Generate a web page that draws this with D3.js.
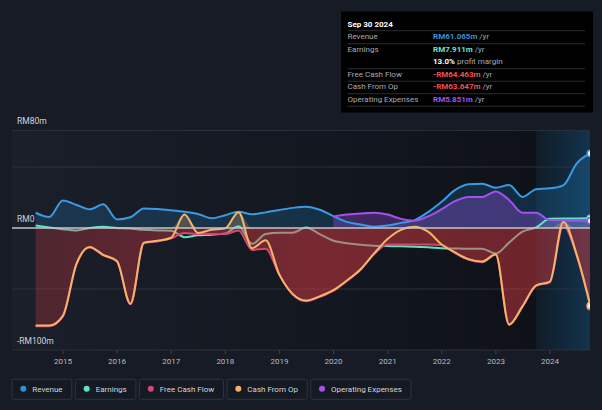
<!DOCTYPE html>
<html><head><meta charset="utf-8">
<script src="https://cdn.jsdelivr.net/npm/d3@7"></script>
<style>html,body{margin:0;padding:0;background:#161b25;}svg{display:block;font-family:Roboto,"Open Sans",sans-serif;}</style>
</head><body><svg id="c" width="602" height="410"></svg>
<script>
const dates = ["2014-06-30","2014-09-30","2014-12-31","2015-03-31","2015-06-30","2015-09-30","2015-12-31","2016-03-31","2016-06-30","2016-09-30","2016-12-31","2017-03-31","2017-06-30","2017-09-30","2017-12-31","2018-03-31","2018-06-30","2018-09-30","2018-12-31","2019-03-31","2019-06-30","2019-09-30","2019-12-31","2020-03-31","2020-06-30","2020-09-30","2020-12-31","2021-03-31","2021-06-30","2021-09-30","2021-12-31","2022-03-31","2022-06-30","2022-09-30","2022-12-31","2023-03-31","2023-06-30","2023-09-30","2023-12-31","2024-03-31","2024-06-30","2024-09-30"];
const revenue = [12.5,9,22.5,19,15.3,19.5,7,8.8,16,15.5,14.5,13.3,11.5,8,10.5,13.4,11.2,12.8,14.8,16.5,17.5,15,9.8,5,2.8,1.1,2,4.2,6.3,13,21.5,31,35.8,36.3,33,35.2,25.5,31.8,32.5,35,53,61.065];
const earnings = [2,0.5,-1,-2,0,1,0,-0.5,-1.5,-2,-2.2,-7.5,-6,-5.5,-4.5,1.5,-13,-5,-3.8,-3.8,0.5,-5,-10.5,-12.5,-13.8,-14.5,-14.8,-15,-15.3,-15.8,-16.5,-16.8,-17,-17,-21,-12,-3,0.5,7.5,7.8,7.8,7.911];
const freeCashFlow = [-80.5,-80.5,-72.5,-30.5,-16,-22.5,-27.5,-62.5,-12.5,-11,-8.5,-4,-5,-5,-5,-2,-18,-17,-38.5,-54.5,-60,-56.5,-51.5,-43.5,-34.5,-21.5,-13.5,-13.5,-13.5,-13.5,-14,-20.5,-26,-28,-22,-79.5,-64.5,-47.5,-44.5,2,-22.8,-64.463];
const cashFromOp = [-80,-80,-72,-30,-15.5,-22,-27,-62,-12,-10.5,-8,11,-4,-1.5,-0.3,13,-16.5,-10,-38,-54,-59.5,-56,-51,-43,-34,-21,-9,-1.5,1,-3,-13.5,-20,-25.5,-27.5,-21.5,-79,-64,-47,-44,5,-22,-63.647];
const opExpenses = [null,null,null,null,null,null,null,null,null,null,null,null,null,null,null,null,null,null,null,null,null,null,9.3,11,11.8,12.4,11,7.5,6,9.5,15.5,22,25.5,25.5,30,23,12.5,12.5,6.5,6.2,6,5.851];

const yLabelValues = [80, 0, -100];
const yLabelTexts = ["RM80m", "RM0", "-RM100m"];
const gridValues = [80, 50, -50, -100];
const xTickYears = [2015,2016,2017,2018,2019,2020,2021,2022,2023,2024];
const highlightStart = "2023-09-30";

const legendNames = ["Revenue","Earnings","Free Cash Flow","Cash From Op","Operating Expenses"];
const legendColors = ["#2f8fdd","#5fe0c8","#cf4a80","#f0b269","#a552ea"];

const tipTitle = "Sep 30 2024";
const tipLabels = ["Revenue","Earnings","","Free Cash Flow","Cash From Op","Operating Expenses"];
const tipValues = ["RM61.065m","RM7.911m","13.0%","-RM64.463m","-RM63.647m","RM5.851m"];
const tipSuffix = [" /yr"," /yr"," profit margin"," /yr"," /yr"," /yr"];
const tipColors = ["#2f95dd","#6fe6c8","#ffffff","#f0524f","#f0524f","#a155f0"];

const C = {rev:"#3b9ae1", earn:"#64e0c4", fcf:"#d4497f", cfo:"#f4b46a", opex:"#a550ef"};

const svg = d3.select("#c");
const W = 602, H = 410;
const L = 12, R = 590, T = 130.4, B = 350;
const parse = d3.timeParse("%Y-%m-%d");
const D = dates.map(parse);
const x = d3.scaleTime().domain(d3.extent(D)).range([35.6, 590.4]);
const y = d3.scaleLinear().domain([-100, 80]).range([B, T]);

const defs = svg.append("defs");
const bgG = defs.append("linearGradient").attr("id","bgG").attr("x1","0").attr("x2","1").attr("y1","0").attr("y2","0");
bgG.append("stop").attr("offset","0").attr("stop-color","#1a1f2a");
bgG.append("stop").attr("offset","1").attr("stop-color","#0d1016");
const hlG = defs.append("linearGradient").attr("id","hlG").attr("x1","0").attr("x2","1").attr("y1","0").attr("y2","0");
hlG.append("stop").attr("offset","0").attr("stop-color","#2394df").attr("stop-opacity",0.08);
hlG.append("stop").attr("offset","1").attr("stop-color","#2394df").attr("stop-opacity",0.27);
const redG = defs.append("linearGradient").attr("id","redG").attr("gradientUnits","userSpaceOnUse")
  .attr("x1",35).attr("x2",590).attr("y1",0).attr("y2",0);
redG.append("stop").attr("offset","0").attr("stop-color","#dc3a42").attr("stop-opacity",0.27);
redG.append("stop").attr("offset","0.5").attr("stop-color","#dc3a42").attr("stop-opacity",0.5);
redG.append("stop").attr("offset","1").attr("stop-color","#dc3a42").attr("stop-opacity",0.45);
defs.append("clipPath").attr("id","clip").append("rect").attr("x",L).attr("y",T-12).attr("width",R-L).attr("height",B-T+12);

svg.append("rect").attr("width",W).attr("height",H).attr("fill","#161b25");
svg.append("rect").attr("x",L).attr("y",T).attr("width",R-L).attr("height",B-T).attr("fill","url(#bgG)");
const hx = x(parse(highlightStart));
svg.append("rect").attr("x",hx).attr("y",T).attr("width",R-hx).attr("height",B-T).attr("fill","url(#hlG)");

svg.append("g").selectAll("line").data(gridValues).join("line")
  .attr("x1",L).attr("x2",R).attr("y1",d=>y(d)).attr("y2",d=>y(d))
  .attr("stroke","#2c313c").attr("stroke-width",1);

svg.append("g").selectAll("line").data(xTickYears).join("line")
  .attr("x1",d=>x(new Date(d,0,1))).attr("x2",d=>x(new Date(d,0,1)))
  .attr("y1",B).attr("y2",B+4).attr("stroke","#3a404c");

const idx = d3.range(dates.length);
const curve = d3.curveMonotoneX;
const g = svg.append("g").attr("clip-path","url(#clip)");
const area = (arr, f) => d3.area().defined(i=>arr[i]!=null).curve(curve)
  .x(i=>x(D[i])).y0(y(0)).y1(i=>y(f ? f(arr[i]) : arr[i]));
const line = (arr) => d3.line().defined(i=>arr[i]!=null).curve(curve).x(i=>x(D[i])).y(i=>y(arr[i]));

g.append("path").attr("d",area(revenue)(idx)).attr("fill","#2394df").attr("fill-opacity",0.2);
g.append("path").attr("d",area(opExpenses)(idx)).attr("fill","#a855f7").attr("fill-opacity",0.3);
g.append("path").attr("d",area(earnings, v=>Math.max(v,0))(idx)).attr("fill","#5fe0c8").attr("fill-opacity",0.15);
g.append("path").attr("d",area(cashFromOp, v=>Math.max(v,0))(idx)).attr("fill","#f4b46a").attr("fill-opacity",0.25);

svg.append("line").attr("x1",L).attr("x2",R).attr("y1",y(0)).attr("y2",y(0)).attr("stroke","#c4c4c8").attr("stroke-width",1.5);

g.append("path").attr("d",line(earnings)(idx)).attr("fill","none").attr("stroke",C.earn).attr("stroke-width",2);
g.append("path").attr("d",line(freeCashFlow)(idx)).attr("fill","none").attr("stroke",C.fcf).attr("stroke-width",2);
g.append("path").attr("d",area(freeCashFlow)(idx)).attr("fill","url(#redG)");

g.append("path").attr("d",line(revenue)(idx)).attr("fill","none").attr("stroke",C.rev).attr("stroke-width",2);
g.append("path").attr("d",line(opExpenses)(idx)).attr("fill","none").attr("stroke",C.opex).attr("stroke-width",2);
g.append("path").attr("d",line(cashFromOp)(idx)).attr("fill","none").attr("stroke",C.cfo).attr("stroke-width",2);

const last = dates.length-1;
[[earnings,C.earn],[freeCashFlow,C.fcf],[revenue,C.rev],[opExpenses,C.opex],[cashFromOp,C.cfo]].forEach(([arr,col])=>{
  g.append("circle").attr("cx",x(D[last])).attr("cy",y(arr[last])).attr("r",3.2)
   .attr("fill","#eef3f8").attr("stroke",col).attr("stroke-width",1.5);
});

svg.append("g").selectAll("text").data(yLabelValues).join("text")
  .attr("x",17).attr("y",d=>y(d)-6).attr("fill","#d2d6dc").attr("font-size",8.5)
  .text((d,i)=>yLabelTexts[i]);
svg.append("g").selectAll("text").data(xTickYears).join("text")
  .attr("x",d=>x(new Date(d,0,1))).attr("y",364).attr("text-anchor","middle")
  .attr("fill","#b8bcc4").attr("font-size",8).text(d=>d);

// tooltip
const tip = svg.append("g");
tip.append("rect").attr("x",341).attr("y",11.5).attr("width",252).attr("height",101).attr("fill","#000");
tip.append("text").attr("x",347.5).attr("y",26.5).attr("fill","#fff").attr("font-size",8).attr("font-weight","bold").text(tipTitle);
const sepY = [30.7].concat([0,2,3,4,5].map(k=>39.3+12.48*k+4.5));
tip.selectAll("line").data(sepY).join("line").attr("x1",347.5).attr("x2",585).attr("y1",d=>d).attr("y2",d=>d)
  .attr("stroke","#383a3f").attr("stroke-width",0.8);
tipLabels.forEach((lab,k)=>{
  const by = 39.3+12.48*k;
  if(lab) tip.append("text").attr("x",347.5).attr("y",by).attr("fill","#a7acb4").attr("font-size",8).text(lab);
  const t = tip.append("text").attr("x",433).attr("y",by).attr("font-size",8);
  t.append("tspan").attr("fill",tipColors[k]).attr("font-weight","bold").text(tipValues[k]);
  t.append("tspan").attr("fill","#a7acb4").text(tipSuffix[k]);
});

// legend
let lx = 12;
const lg = svg.append("g");
legendNames.forEach((nm,k)=>{
  const gg = lg.append("g");
  const rect = gg.append("rect").attr("x",lx).attr("y",379.3).attr("height",20).attr("rx",2)
    .attr("fill","#141922").attr("stroke","#2e3440").attr("stroke-width",1);
  gg.append("circle").attr("cx",lx+11.3).attr("cy",388.8).attr("r",3).attr("fill",legendColors[k]);
  const t = gg.append("text").attr("x",lx+20.3).attr("y",391.5).attr("fill","#d3d6dc").attr("font-size",8).text(nm);
  const w = 20.3 + t.node().getComputedTextLength() + 9.2;
  rect.attr("width",w);
  lx += w + 3.6;
});
</script></body></html>
